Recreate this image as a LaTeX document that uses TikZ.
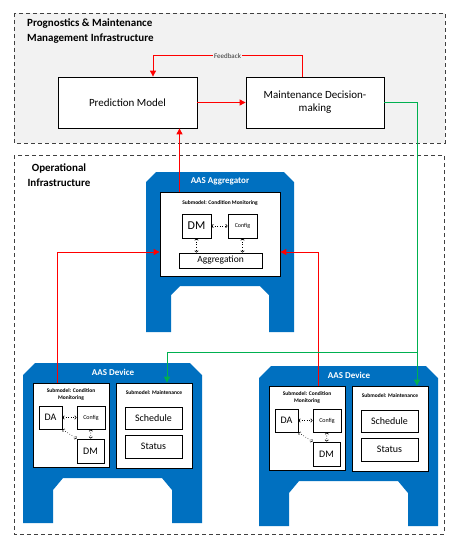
\documentclass[tikz,border=0pt]{standalone}
\usepackage{fontspec}
\setmainfont{Carlito}
\usepackage{xcolor}
\usepackage{tikz}
\usetikzlibrary{arrows.meta,positioning}
\definecolor{aasblue}{HTML}{0070C0}
\definecolor{flowred}{HTML}{FF0000}
\definecolor{flowgreen}{HTML}{00B050}

\begin{document}
\begin{tikzpicture}[x=1pt,y=-1pt,
    every node/.style={font=\fontsize{10}{12}\selectfont,inner sep=0pt},
    zone/.style={draw=black!75,dash pattern=on 4pt off 3pt,line width=0.9pt},
    zonetitle/.style={font=\fontsize{11}{15}\selectfont\bfseries},
    box/.style={draw,fill=white,line width=0.8pt},
    aastitle/.style={text=white,font=\fontsize{9}{10}\selectfont\bfseries},
    smtitle/.style={font=\fontsize{5.5}{7}\selectfont\bfseries,align=center},
    redflow/.style={draw=flowred,line width=1pt,-{Triangle[length=6pt,width=6pt]}},
    greenflow/.style={draw=flowgreen,line width=0.9pt,-{Triangle[length=6pt,width=6pt]}},
    dotlink/.style={dotted,line width=0.6pt,{Straight Barb[length=1.5pt,width=3.5pt]}-{Straight Barb[length=1.5pt,width=3.5pt]}}]
  \useasboundingbox (0,0) rectangle (460,550);
  \draw[zone,fill=black!5] (14,13) rectangle (445,143);
  \draw[zone] (14,155) rectangle (444,534);
  \node[zonetitle,anchor=west,align=left] (pmtitle) at (27,31.5) {Prognostics \& Maintenance\\Management Infrastructure};
  \node[zonetitle,align=center] (optitle) at (59,175.5) {Operational\\Infrastructure};

  \node[box,minimum width=139,minimum height=51,font=\fontsize{11}{13}\selectfont] (pred) at (127.5,102.5) {Prediction Model};
  \node[box,minimum width=138,minimum height=51,font=\fontsize{11}{13}\selectfont,align=center] (maint) at (315,102.5) {Maintenance Decision-\\making};

  \fill[aasblue] (146,182) -- (156,172) -- (284,172) -- (294,182) -- (294,332) -- (269,332) -- (269,295) -- (260,286)
    -- (180,286) -- (171,295) -- (171,332) -- (146,332) -- cycle;
  \node[aastitle] (aggtitle) at (220,181) {AAS Aggregator};
  \node[box,minimum width=120,minimum height=84] (agg) at (220,234) {};
  \node[smtitle] (aggsm) at (220,203) {Submodel: Condition Monitoring};
  \node[box,minimum width=29,minimum height=24,font=\fontsize{12}{14}\selectfont] (aggdm) at (196.5,226) {DM};
  \node[box,minimum width=29,minimum height=24,font=\fontsize{6}{7}\selectfont] (aggcfg) at (242.5,226) {Config};
  \node[box,minimum width=83,minimum height=15,font=\fontsize{9.5}{11}\selectfont] (aggr) at (220.5,260.5) {Aggregation};
  \draw[dotlink] (aggdm) -- (aggcfg);
  \draw[dotlink] (aggdm.south) -- (aggdm.south |- aggr.north);
  \draw[dotlink] (aggcfg.south) -- (aggcfg.south |- aggr.north);

  \foreach \d/\dx/\dy in {l/0/0,r/236/3} {
    \begin{scope}[shift={(\dx,\dy)}]
      \fill[aasblue] (23,375) -- (35,363) -- (190,363) -- (202,375) -- (202,523) -- (172,523) -- (172,490) -- (162,478)
        -- (63,478) -- (53,490) -- (53,523) -- (23,523) -- cycle;
      \node[aastitle] (dev\d) at (113,372) {AAS Device};
      \node[box,minimum width=76,minimum height=84] (cm\d) at (71,425) {};
      \node[smtitle] (cmt\d) at (71,394.5) {Submodel: Condition\\Monitoring};
      \node[box,minimum width=23,minimum height=23] (da\d) at (50.5,417.5) {DA};
      \node[box,minimum width=28,minimum height=23,font=\fontsize{6}{7}\selectfont] (cfg\d) at (91,417.5) {Config};
      \node[box,minimum width=27,minimum height=24] (dm\d) at (90.5,451) {DM};
      \draw[dotlink] (da\d) -- (cfg\d);
      \draw[dotlink] (cfg\d) -- (dm\d);
      \draw[dotlink] (da\d.south east) -- (dm\d.north west);
      \node[box,minimum width=76,minimum height=85] (mm\d) at (154,425.5) {};
      \node[smtitle] (mmt\d) at (154,393) {Submodel: Maintenance};
      \node[box,minimum width=57,minimum height=22] (sch\d) at (153.5,418) {Schedule};
      \node[box,minimum width=57,minimum height=23] (st\d) at (153.5,446.5) {Status};
    \end{scope}
  }

  \draw[redflow] (pred) -- (maint);
  \draw[redflow] ([xshift=-13pt]maint.north) -- ++(0,-21) -| ([xshift=25.5pt]pred.north)
    node[pos=0.25,fill=black!5,text=black!80,inner xsep=1pt,font=\fontsize{7}{8}\selectfont] (fb) {Feedback};
  \draw[redflow] ([xshift=-40.5pt]agg.north) -- ([xshift=-40.5pt]agg.north |- pred.south);
  \draw[redflow] ([xshift=-14pt]cml.north) |- ([yshift=-18pt]agg.west);
  \draw[redflow] ([xshift=11pt]cmr.north) |- ([yshift=-18pt]agg.east);

  \coordinate (split) at (417,352);
  \draw[greenflow] (maint.east) -| ([xshift=27pt]mmr.north);
  \draw[greenflow] (split) -| ([xshift=13pt]mml.north);
\end{tikzpicture}
\end{document}
